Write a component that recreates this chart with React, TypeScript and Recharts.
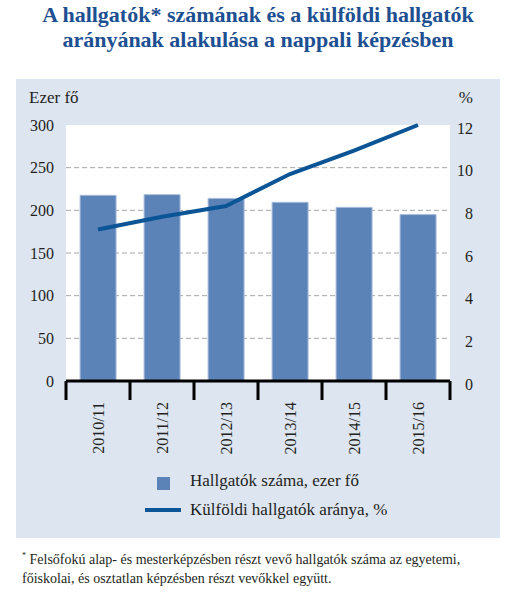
import {
  Bar,
  CartesianGrid,
  ComposedChart,
  Line,
  XAxis,
  YAxis,
} from "recharts";

const years = ["2010/11", "2011/12", "2012/13", "2013/14", "2014/15", "2015/16"];
const students = [217.6, 218.4, 214, 209.4, 203.5, 195];
const foreignShare = [7.1, 7.7, 8.2, 9.7, 10.8, 12.0];
const leftTicks = [0, 50, 100, 150, 200, 250, 300];
const rightTicks = [0, 2, 4, 6, 8, 10, 12];
const edgeTicks = [0, 1, 2, 3, 4, 5, 6];

const data = years.map((year, i) => ({
  year,
  pos: i + 0.5,
  students: students[i],
  share: foreignShare[i],
}));

const FONT = '"Liberation Serif", serif';
const TEXT = "#231f20";
const BAR = "#5b83b7";
const LINE = "#0b5596";
const PANEL = "#dde5f1";

// axis ids: 0 = boundary ticks (nearest the plot), 1 = year labels
const EDGE = 0;
const CAT = 1;

const YearTick = (props: any) => {
  const { x, y, payload } = props;
  const ty = y - 7;
  return (
    <text
      x={x}
      y={ty}
      transform={`rotate(-90, ${x}, ${ty})`}
      textAnchor="end"
      dy="0.35em"
      fill={TEXT}
      fontSize={16}
      fontFamily={FONT}
    >
      {payload.value}
    </text>
  );
};

const RightTick = (props: any) => {
  const { x, y, payload } = props;
  return (
    <text
      x={x + 15}
      y={y + 3}
      textAnchor="end"
      dy="0.35em"
      fill={TEXT}
      fontSize={16}
      fontFamily={FONT}
    >
      {payload.value}
    </text>
  );
};

export default function App() {
  return (
    <div
      style={{
        position: "absolute",
        left: 0,
        top: 0,
        width: 516,
        height: 596,
        background: "#fff",
        fontFamily: FONT,
        color: TEXT,
      }}
    >
      {/* Title */}
      <div
        style={{
          position: "absolute",
          top: 2,
          left: 0,
          width: 516,
          textAlign: "center",
          fontWeight: "bold",
          fontSize: 22,
          lineHeight: "25px",
          color: "#1d4f91",
        }}
      >
        A hallgatók* számának és a külföldi hallgatók
        <br />
        arányának alakulása a nappali képzésben
      </div>

      {/* Panel */}
      <div
        style={{
          position: "absolute",
          left: 16,
          top: 79,
          width: 484,
          height: 459,
          background: PANEL,
        }}
      >
        <div style={{ position: "absolute", left: 13, top: 9, fontSize: 17 }}>
          Ezer fő
        </div>
        <div
          style={{ position: "absolute", right: 27, top: 9, fontSize: 17 }}
        >
          %
        </div>

        <ComposedChart
          width={484}
          height={390}
          data={data}
          margin={{ top: 46, right: 0, bottom: 0, left: 0 }}
          barCategoryGap="22%"
        >
          <CartesianGrid
            yAxisId="left"
            xAxisId={CAT}
            vertical={false}
            horizontalValues={[50, 100, 150, 200, 250]}
            stroke="#a6a6a6"
            strokeDasharray="5 3"
            fill="#ffffff"
          />
          <XAxis
            xAxisId={EDGE}
            dataKey="pos"
            type="number"
            domain={[0, 6]}
            ticks={edgeTicks}
            allowDataOverflow
            tickFormatter={() => ""}
            tickSize={19}
            height={20}
            axisLine={{ stroke: "#000", strokeWidth: 3 }}
            tickLine={{ stroke: "#000", strokeWidth: 3 }}
          />
          <XAxis
            xAxisId={CAT}
            dataKey="year"
            height={68}
            axisLine={false}
            tickLine={false}
            interval={0}
            tick={<YearTick />}
          />
          <YAxis
            yAxisId="left"
            orientation="left"
            domain={[0, 300]}
            ticks={leftTicks}
            width={50}
            axisLine={false}
            tickLine={false}
            tickMargin={6}
            tick={{ fill: TEXT, fontSize: 16, fontFamily: FONT }}
          />
          <YAxis
            yAxisId="right"
            orientation="right"
            domain={[0, 12]}
            ticks={rightTicks}
            width={50}
            axisLine={false}
            tickLine={false}
            tick={<RightTick />}
          />
          <Bar
            xAxisId={CAT}
            yAxisId="left"
            dataKey="students"
            fill={BAR}
            stroke="#a9bedb"
            strokeWidth={1}
            isAnimationActive={false}
          />
          <Line
            xAxisId={EDGE}
            yAxisId="right"
            dataKey="share"
            type="linear"
            stroke={LINE}
            strokeWidth={4}
            dot={false}
            activeDot={false}
            isAnimationActive={false}
          />
        </ComposedChart>

        {/* Legend */}
        <div style={{ position: "absolute", left: 141, top: 398, width: 13, height: 13, background: BAR }} />
        <div style={{ position: "absolute", left: 174, top: 392, fontSize: 17, whiteSpace: "nowrap" }}>
          Hallgatók száma, ezer fő
        </div>
        <div style={{ position: "absolute", left: 129, top: 429, width: 36, height: 4, background: LINE }} />
        <div style={{ position: "absolute", left: 174, top: 421, fontSize: 17, whiteSpace: "nowrap" }}>
          Külföldi hallgatók aránya, %
        </div>
      </div>

      {/* Footnote */}
      <div
        style={{
          position: "absolute",
          left: 22,
          top: 546,
          fontSize: 14,
          lineHeight: "19px",
          whiteSpace: "nowrap",
        }}
      >
        <sup style={{ fontSize: 8 }}>*</sup> Felsőfokú alap- és mesterképzésben részt vevő hallgatók száma az egyetemi,
        <br />
        főiskolai, és osztatlan képzésben részt vevőkkel együtt.
      </div>
    </div>
  );
}
